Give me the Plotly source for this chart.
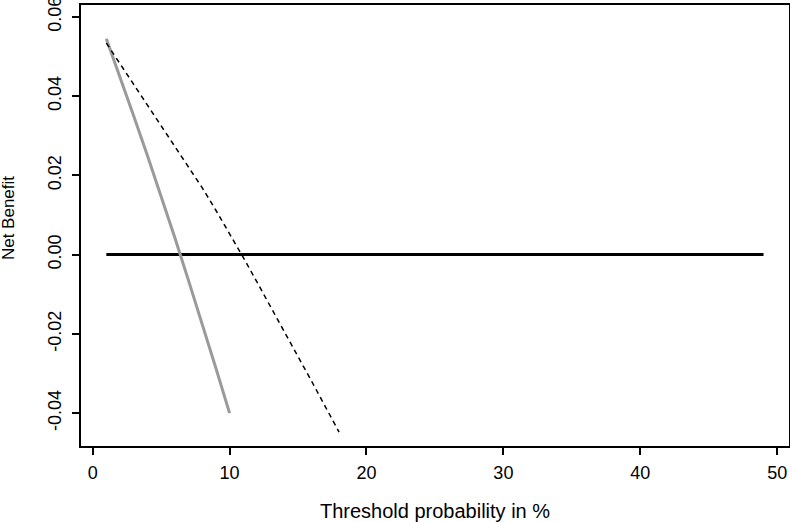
import plotly.graph_objects as go

# Threshold probabilities (%)
thresholds_all = [1, 2, 3, 4, 5, 6, 7, 8, 9, 10]
nb_treat_all = [0.0545, 0.0449, 0.0350, 0.0250, 0.0147, 0.0043, -0.0065, -0.0174, -0.0286, -0.0400]

thresholds_model = [1, 2, 3, 4, 5, 6, 7, 8, 9, 10, 11, 12, 13, 14, 15, 16, 17, 18]
nb_model = [0.0534, 0.0482, 0.0430, 0.0378, 0.0326, 0.0274, 0.0223, 0.0169, 0.0112, 0.0053,
            -0.0007, -0.0069, -0.0131, -0.0194, -0.0257, -0.0320, -0.0384, -0.0448]

thresholds_none = [1, 49]
nb_treat_none = [0.0, 0.0]

x_ticks = [0, 10, 20, 30, 40, 50]
y_ticks = [-0.04, -0.02, 0.00, 0.02, 0.04, 0.06]
y_tick_labels = ["-0.04", "-0.02", "0.00", "0.02", "0.04", "0.06"]

fig = go.Figure()
fig.add_trace(go.Scatter(x=thresholds_none, y=nb_treat_none, mode="lines",
                         line=dict(color="black", width=3), showlegend=False))
fig.add_trace(go.Scatter(x=thresholds_all, y=nb_treat_all, mode="lines",
                         line=dict(color="#9a9a9a", width=3), showlegend=False))
fig.add_trace(go.Scatter(x=thresholds_model, y=nb_model, mode="lines",
                         line=dict(color="black", width=1.5, dash="5px,4px"), showlegend=False))

font = "Liberation Sans, Arial, sans-serif"
fig.update_layout(
    width=790, height=522,
    margin=dict(l=81, r=1, t=5, b=76, autoexpand=False),
    paper_bgcolor="white", plot_bgcolor="white",
    font=dict(family=font, color="black"),
)
fig.update_xaxes(
    range=[-0.85, 50.86], tickvals=x_ticks, ticks="outside", ticklen=7, tickwidth=1.5,
    tickcolor="black", showline=True, linecolor="black", linewidth=2, mirror=True,
    showgrid=False, zeroline=False, tickfont=dict(size=18), ticklabelstandoff=2,
    ticklabeloverflow="allow",
    title=dict(text="Threshold probability in %", font=dict(size=20), standoff=22),
)
fig.update_yaxes(
    range=[-0.0483, 0.063], tickvals=y_ticks, ticktext=y_tick_labels, ticks="outside",
    ticklen=7, tickwidth=1.5, tickcolor="black", showline=True, linecolor="black",
    linewidth=2, mirror=True, showgrid=False, zeroline=False, tickangle=-90,
    tickfont=dict(size=18), ticklabelstandoff=4, ticklabeloverflow="allow",
)
fig.add_annotation(
    text="Net Benefit", xref="paper", yref="paper", x=-0.103, y=0.517,
    xanchor="center", yanchor="middle", textangle=-90, showarrow=False,
    font=dict(size=17, family=font, color="black"),
)

fig.write_html("out.html", post_script="document.body.style.margin='0';",
               config={"displayModeBar": False})
